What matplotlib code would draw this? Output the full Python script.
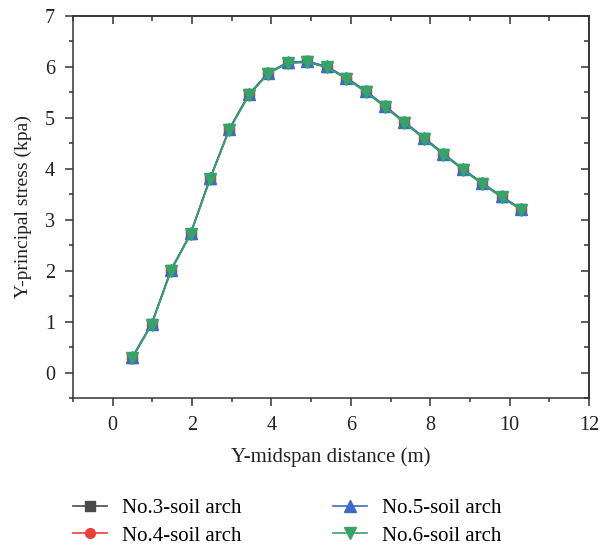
import numpy as np
import matplotlib.pyplot as plt
from matplotlib.ticker import MultipleLocator, NullFormatter

plt.rcParams['font.family'] = ['Liberation Serif', 'DejaVu Serif']

# Y-midspan distance (m)
distance = [0.49, 0.98, 1.47, 1.96, 2.45, 2.94, 3.43, 3.92, 4.41, 4.90, 5.39,
            5.88, 6.37, 6.86, 7.35, 7.84, 8.33, 8.82, 9.31, 9.80, 10.29]

# Y-principal stress (kpa) for each soil arch
arch3 = [0.29, 0.95, 2.01, 2.72, 3.80, 4.78, 5.46, 5.88, 6.08, 6.11, 6.00,
         5.79, 5.53, 5.23, 4.92, 4.61, 4.30, 3.99, 3.72, 3.45, 3.21]
arch4 = [0.29, 0.95, 2.01, 2.72, 3.80, 4.78, 5.45, 5.88, 6.08, 6.10, 6.00,
         5.78, 5.52, 5.22, 4.91, 4.60, 4.29, 3.99, 3.71, 3.45, 3.21]
arch5 = [0.30, 0.96, 2.02, 2.73, 3.81, 4.79, 5.46, 5.89, 6.09, 6.11, 6.01,
         5.79, 5.53, 5.23, 4.92, 4.61, 4.30, 4.00, 3.72, 3.46, 3.21]
arch6 = [0.28, 0.94, 2.00, 2.71, 3.79, 4.77, 5.44, 5.87, 6.07, 6.09, 5.99,
         5.77, 5.51, 5.21, 4.90, 4.59, 4.28, 3.98, 3.70, 3.44, 3.19]

labels = ["No.3-soil arch", "No.4-soil arch", "No.5-soil arch", "No.6-soil arch"]

fig = plt.figure(figsize=(6.08, 5.47), dpi=100)
ax = fig.add_axes([0.1201, 0.2724, 0.8487, 0.6984])

ax.plot(distance, arch3, color='#4a4a4a', marker='s', ms=7, lw=1.2, label=labels[0])
ax.plot(distance, arch4, color='#e8403a', marker='o', ms=7, lw=1.2, label=labels[1])
ax.plot(distance, arch5, color='#3a6cc4', marker='^', ms=8.5, lw=1.2, label=labels[2])
ax.plot(distance, arch6, color='#36a468', marker='v', ms=8.5, lw=1.2, label=labels[3])

ax.set_xlim(-1, 12)
ax.set_ylim(-0.5, 7)

# bottom/left ticks point out, top/right ticks point in
top = ax.secondary_xaxis('top')
right = ax.secondary_yaxis('right')
for a in (ax.xaxis, top.xaxis):
    a.set_major_locator(MultipleLocator(2))
    a.set_minor_locator(MultipleLocator(1))
for a in (ax.yaxis, right.yaxis):
    a.set_major_locator(MultipleLocator(1))
    a.set_minor_locator(MultipleLocator(0.5))

ax.tick_params(which='both', direction='out', labelsize=14.5,
               color='#333333', labelcolor='#222222', width=1.1)
ax.tick_params(which='major', length=6, pad=7)
ax.tick_params(which='minor', length=3)
for sec in (top, right):
    sec.tick_params(which='both', direction='in', color='#333333', width=1.1)
    sec.tick_params(which='major', length=6)
    sec.tick_params(which='minor', length=3.5)
top.xaxis.set_major_formatter(NullFormatter())
right.yaxis.set_major_formatter(NullFormatter())
for sec in (top, right):
    for s in sec.spines.values():
        s.set_color('#333333')
        s.set_linewidth(1.1)
for s in ax.spines.values():
    s.set_color('#333333')
    s.set_linewidth(1.1)

ax.set_xlabel('Y-midspan distance (m)', fontsize=15, color='#222222', labelpad=9)
ax.set_ylabel('Y-principal stress (kpa)', fontsize=14, color='#222222', labelpad=9)

fig.legend(loc='center', bbox_to_anchor=(0.4720, 0.0457), ncol=2, frameon=False,
           fontsize=15, columnspacing=4.4, handlelength=1.65, labelspacing=0.4,
           handletextpad=0.7)

fig.savefig('out.png', dpi=100)
